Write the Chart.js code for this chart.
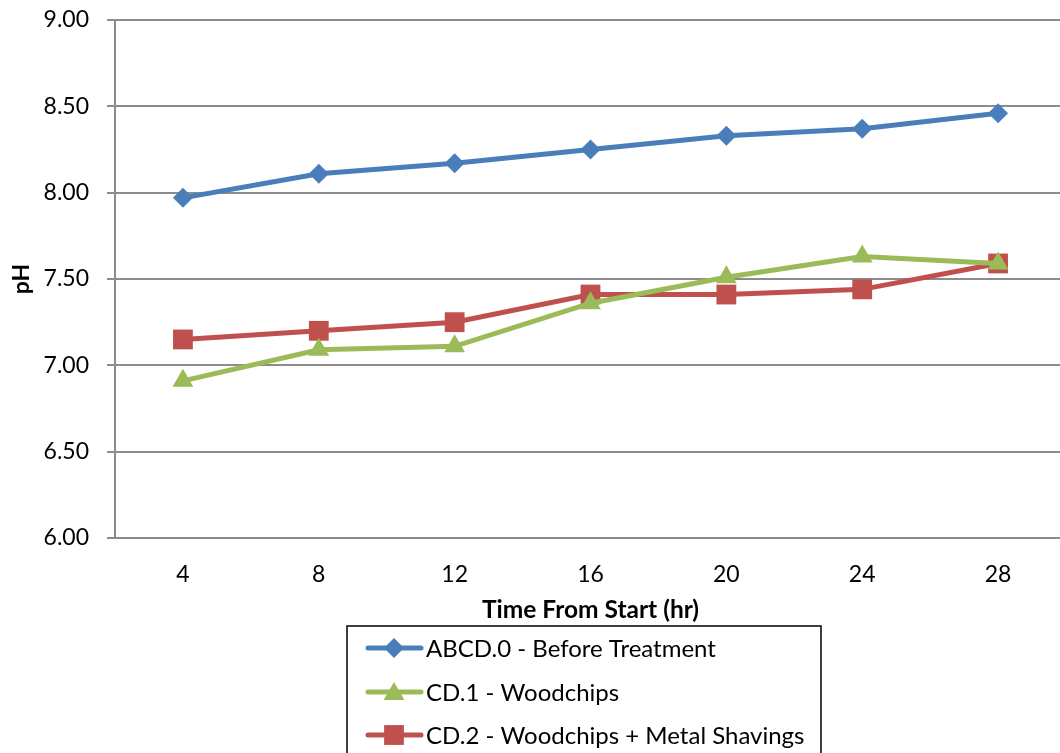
<!DOCTYPE html>
<html>
<head>
<meta charset="utf-8">
<script src="https://cdn.jsdelivr.net/npm/chart.js@4/dist/chart.umd.min.js"></script>
<style>
  html, body { margin: 0; padding: 0; background: #fff; overflow: hidden; }
  #wrap { position: relative; width: 1060px; height: 753px; overflow: hidden; }
  #c { display: block; }
</style>
</head>
<body>
<div id="wrap"><canvas id="c" width="1080" height="753" style="width:1080px;height:753px"></canvas></div>
<script>
const categories = ['4', '8', '12', '16', '20', '24', '28'];
const seriesNames = ['ABCD.0 - Before Treatment', 'CD.1 - Woodchips', 'CD.2 - Woodchips + Metal Shavings'];
const beforeTreatment = [7.97, 8.11, 8.17, 8.25, 8.33, 8.37, 8.46];
const woodchips = [6.91, 7.09, 7.11, 7.36, 7.51, 7.63, 7.59];
const woodchipsMetal = [7.15, 7.20, 7.25, 7.41, 7.41, 7.44, 7.59];
const yTickValues = [6.0, 6.5, 7.0, 7.5, 8.0, 8.5, 9.0];
const xTitle = 'Time From Start (hr)';
const yTitle = 'pH';

const FONT = 'Lato, "Open Sans", sans-serif';
const GRID = '#8c8c8c';

const styles = [
  { color: '#4A7EBB', point: 'rectRot', radius: 10 },
  { color: '#9BBB59', point: 'triangle', radius: 12 },
  { color: '#C0504D', point: 'rect', radius: 14 }
];
const values = [beforeTreatment, woodchips, woodchipsMetal];

function drawMarker(ctx, style, x, y) {
  const r = style.radius;
  ctx.beginPath();
  if (style.point === 'rectRot') {
    ctx.moveTo(x, y - r); ctx.lineTo(x + r, y); ctx.lineTo(x, y + r); ctx.lineTo(x - r, y);
  } else if (style.point === 'triangle') {
    ctx.moveTo(x, y - r);
    ctx.lineTo(x + r * Math.sin(2 * Math.PI / 3), y + r * 0.5);
    ctx.lineTo(x - r * Math.sin(2 * Math.PI / 3), y + r * 0.5);
  } else {
    const s = r * Math.SQRT1_2;
    ctx.rect(x - s, y - s, 2 * s, 2 * s);
  }
  ctx.closePath();
  ctx.fillStyle = style.color;
  ctx.fill();
}

const legendBox = {
  id: 'legendBox',
  afterDraw(chart) {
    const ctx = chart.ctx;
    ctx.save();
    ctx.strokeStyle = '#000';
    ctx.lineWidth = 1.5;
    ctx.strokeRect(347, 626, 474, 140);
    const rows = [648, 692, 735];
    ctx.font = '24px ' + FONT;
    ctx.textBaseline = 'middle';
    ctx.textAlign = 'left';
    seriesNames.forEach((name, i) => {
      const st = styles[i];
      const y = rows[i];
      ctx.strokeStyle = st.color;
      ctx.lineWidth = 5;
      ctx.lineCap = 'round';
      ctx.beginPath();
      ctx.moveTo(368, y); ctx.lineTo(421, y);
      ctx.stroke();
      drawMarker(ctx, st, 394, y + (st.point === 'triangle' ? 2 : 0));
      ctx.fillStyle = '#000';
      ctx.fillText(name, 426, y + 1);
    });
    ctx.restore();
  }
};

new Chart(document.getElementById('c'), {
  type: 'line',
  data: {
    labels: categories,
    datasets: seriesNames.map((name, i) => ({
      label: name,
      data: values[i],
      borderColor: styles[i].color,
      backgroundColor: styles[i].color,
      borderWidth: 5,
      pointStyle: styles[i].point,
      pointRadius: styles[i].radius,
      pointHoverRadius: styles[i].radius,
      pointBorderWidth: 0,
      pointBackgroundColor: styles[i].color,
      tension: 0,
      fill: false
    }))
  },
  options: {
    responsive: false,
    animation: false,
    devicePixelRatio: 1,
    layout: { padding: { left: 0, right: 0, top: 20, bottom: 128 } },
    plugins: { legend: { display: false }, tooltip: { enabled: false } },
    scales: {
      x: {
        type: 'category',
        offset: true,
        grid: { display: false, drawTicks: false },
        border: { display: true, color: GRID, width: 2 },
        ticks: { color: '#000', font: { family: FONT, size: 23 }, padding: 23, maxRotation: 0 },
        title: { display: true, text: xTitle, color: '#000', font: { family: FONT, size: 24.5, weight: 'bold' }, padding: { top: 0, bottom: 0 } },
        afterFit(s) { s.height = 87; }
      },
      y: {
        min: 6, max: 9,
        afterBuildTicks(s) { s.ticks = yTickValues.map(v => ({ value: v })); },
        grid: { color: GRID, lineWidth: 2, tickLength: 8, drawTicks: true },
        border: { display: true, color: GRID, width: 2 },
        ticks: { color: '#000', font: { family: FONT, size: 23 }, padding: 18, callback: v => Number(v).toFixed(2) },
        title: { display: true, text: yTitle, color: '#000', font: { family: FONT, size: 23, weight: 'bold' }, padding: { top: 8, bottom: 0 } },
        afterFit(s) { s.width = 115; s.paddingTop = 0; s.paddingBottom = 0; }
      }
    }
  },
  plugins: [legendBox]
});
</script>
</body>
</html>
